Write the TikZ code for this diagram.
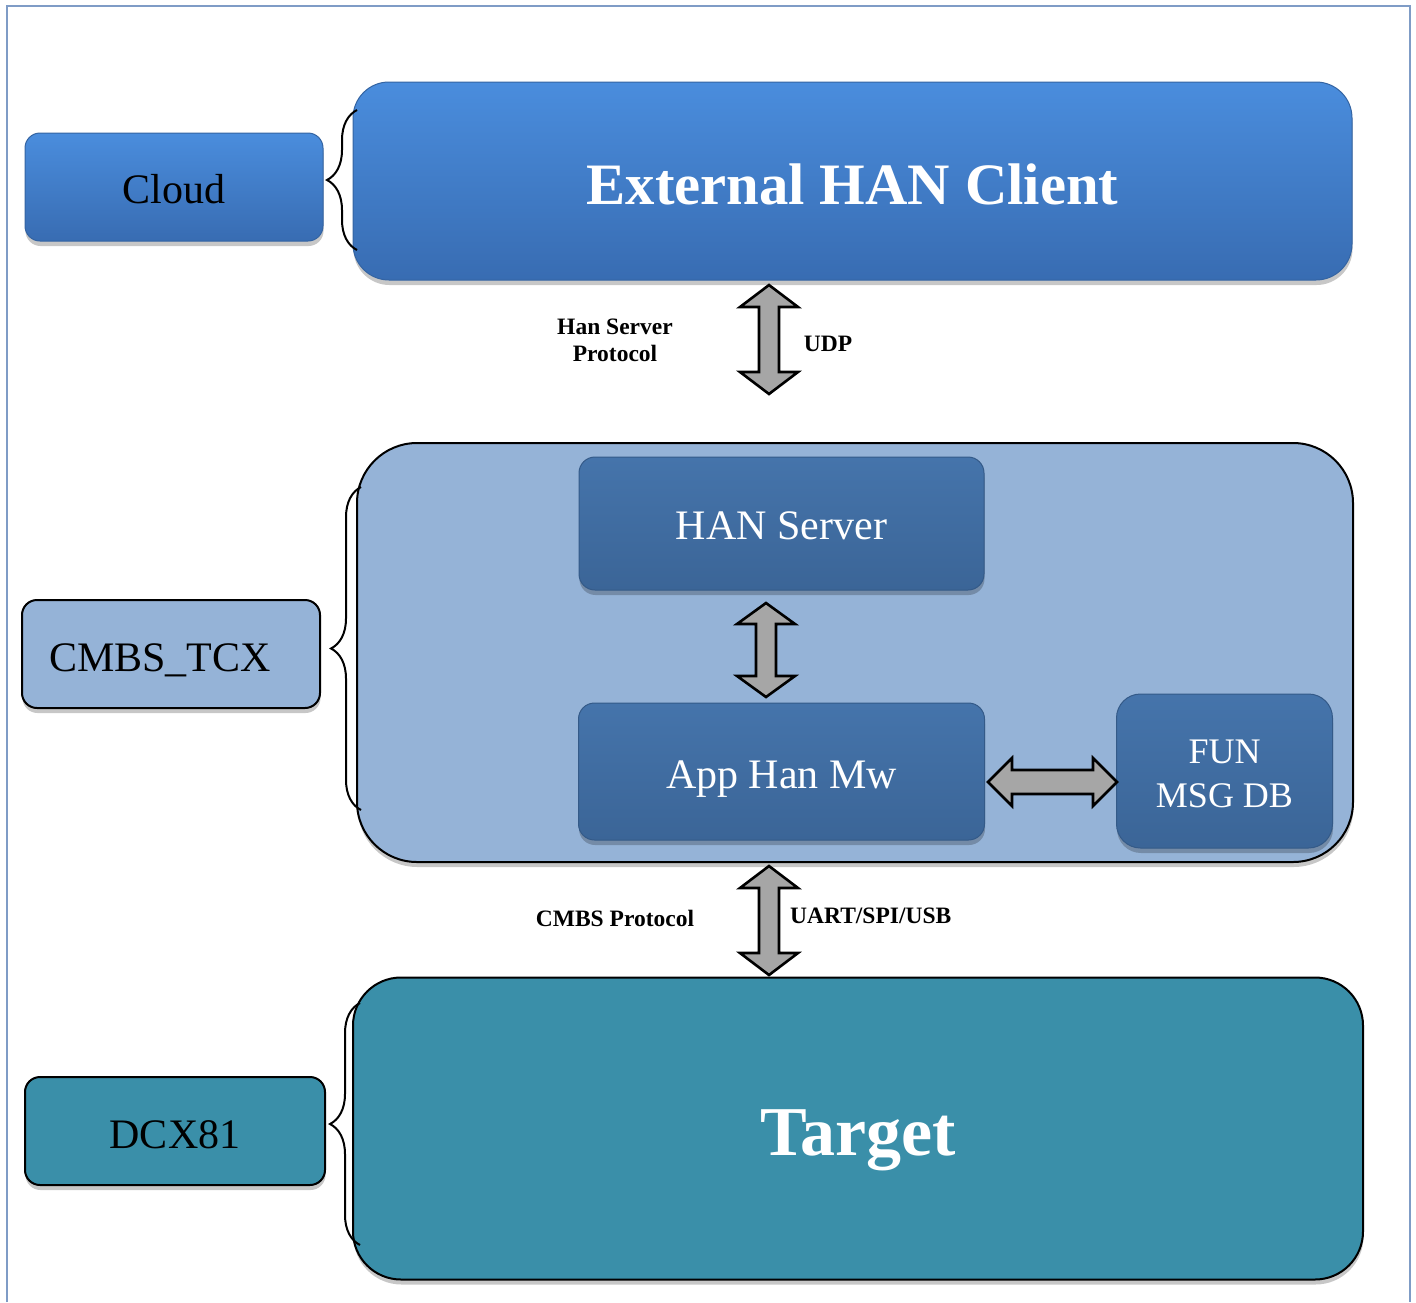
\documentclass[tikz,border=0pt]{standalone}
\usepackage{fontspec}
\setmainfont{Liberation Serif}
\usetikzlibrary{calc,decorations.pathreplacing,shadows}

\definecolor{frameblue}{HTML}{7F9CC6}
\definecolor{skytop}{HTML}{4A8DDD}
\definecolor{skybot}{HTML}{386CB2}
\definecolor{skyedge}{HTML}{3464A2}
\definecolor{paleblue}{HTML}{95B3D7}
\definecolor{deeptop}{HTML}{4574AB}
\definecolor{deepbot}{HTML}{3B6597}
\definecolor{deepedge}{HTML}{345A88}
\definecolor{tealfill}{HTML}{3A8FA9}
\definecolor{arrowgray}{HTML}{A6A6A6}

% fat double-headed arrow between two named points:
% #1 start, #2 end, #3 shaft half width, #4 head half width, #5 head length
\newcommand{\fatarrow}[5]{%
  \draw[fatarrowstyle]
    (#1)
    -- ($(#1)!#5!(#2)!#4!90:(#2)$)
    -- ($(#1)!#5!(#2)!#3!90:(#2)$)
    -- ($(#2)!#5!(#1)!#3!-90:(#1)$)
    -- ($(#2)!#5!(#1)!#4!-90:(#1)$)
    -- (#2)
    -- ($(#2)!#5!(#1)!#4!90:(#1)$)
    -- ($(#2)!#5!(#1)!#3!90:(#1)$)
    -- ($(#1)!#5!(#2)!#3!-90:(#2)$)
    -- ($(#1)!#5!(#2)!#4!-90:(#2)$)
    -- cycle;}

\tikzset{
  softshadow/.style={drop shadow={opacity=0.22, shadow xshift=0.5pt, shadow yshift=-5pt, fill=black}},
  skybox/.style={draw=skyedge, line width=1pt, top color=skytop, bottom color=skybot,
                 softshadow, inner sep=0pt, outer sep=0pt},
  deepbox/.style={draw=deepedge, line width=1pt, top color=deeptop, bottom color=deepbot,
                  softshadow, inner sep=0pt, outer sep=0pt, text=white,
                  font=\fontsize{42}{48}\selectfont},
  palebox/.style={draw=black, line width=2pt, fill=paleblue, softshadow,
                  inner sep=0pt, outer sep=0pt},
  tealbox/.style={draw=black, line width=2pt, fill=tealfill, softshadow,
                  inner sep=0pt, outer sep=0pt},
  sidetext/.style={font=\fontsize{42}{48}\selectfont, text=black},
  % places the baseline #1 below the node centre
  baseline at/.style={text height=2*#1, text depth=0pt},
  lbl/.style={font=\fontsize{23.5}{27}\selectfont\bfseries, text=black, inner sep=0pt, align=center},
  bracestyle/.style={draw=black, line width=2pt, decorate, decoration={brace, amplitude=30pt}},
  fatarrowstyle/.style={draw=black, line width=2.6pt, fill=arrowgray, line join=miter},
  framestyle/.style={draw=frameblue, line width=1.6pt},
}

\begin{document}
\begin{tikzpicture}[x=1pt, y=-1pt]
\useasboundingbox (0,0) rectangle (1416,1302);

% outer frame
\draw[framestyle] (7,1302) -- (7,6) -- (1410,6) -- (1410,1302);

% top tier
\node[skybox, rounded corners=15pt, minimum width=298pt, minimum height=108pt, sidetext,
      baseline at=16pt]
  (cloud) at (174,187) {Cloud};
\node[skybox, rounded corners=36pt, minimum width=999pt, minimum height=198pt,
      text=white, font=\fontsize{58.7}{64}\selectfont\bfseries, baseline at=23pt]
  (ext) at (852.5,181) {External HAN Client};
\draw[bracestyle] (357,250) -- (357,110);

% middle tier
\node[palebox, rounded corners=60pt, minimum width=996pt, minimum height=419pt]
  (mid) at (855,652.5) {};
\node[palebox, rounded corners=15pt, minimum width=298pt, minimum height=108pt, sidetext,
      baseline at=17pt]
  (tcx) at (171,654) {CMBS\_TCX\kern22pt};
\draw[bracestyle] (361,810) -- (361,487);

\node[deepbox, rounded corners=16pt, minimum width=405pt, minimum height=133pt,
      baseline at=15.5pt]
  (hansrv) at (781.5,523.5) {HAN Server};
\node[deepbox, rounded corners=16pt, minimum width=406pt, minimum height=137pt,
      baseline at=16.5pt]
  (appmw) at (781.5,771.5) {App Han Mw};
\node[deepbox, rounded corners=24pt, minimum width=216pt, minimum height=154pt,
      align=center, font=\fontsize{36}{44}\selectfont]
  (fundb) at (1224.5,771) {\rule{0pt}{30pt}FUN\\MSG DB};

% bottom tier
\node[tealbox, rounded corners=15pt, minimum width=300pt, minimum height=108pt, sidetext,
      baseline at=17pt]
  (dcx) at (175,1131) {DCX81};
\node[tealbox, rounded corners=48pt, minimum width=1010pt, minimum height=302pt,
      text=white, font=\fontsize{70}{76}\selectfont\bfseries, baseline at=27pt]
  (target) at (858,1128.5) {Target};
\draw[bracestyle] (360,1245) -- (360,1003);

% arrow end points
\coordinate (udpTop) at (769,285);
\coordinate (udpBot) at (769,394);
\coordinate (srvBot) at (766,603);
\coordinate (mwTop)  at (766,697);
\coordinate (mwRight) at (988,782);
\coordinate (dbLeft)  at (1117,782);
\coordinate (busTop) at (769,866);
\coordinate (busBot) at (769,975);

\fatarrow{udpTop}{udpBot}{10pt}{29pt}{22pt}
\fatarrow{srvBot}{mwTop}{10pt}{29pt}{21pt}
\fatarrow{mwRight}{dbLeft}{12pt}{24pt}{24pt}
\fatarrow{busTop}{busBot}{10pt}{29pt}{22pt}

% connector labels
\node[lbl] (hsp) at (615,340) {Han Server\\Protocol};
\node[lbl] (udp) at (828,344) {UDP};
\node[lbl] (cmbsp) at (615,918) {CMBS Protocol};
\node[lbl, anchor=west] (uart) at (790,916) {UART/SPI/USB};
\end{tikzpicture}
\end{document}
